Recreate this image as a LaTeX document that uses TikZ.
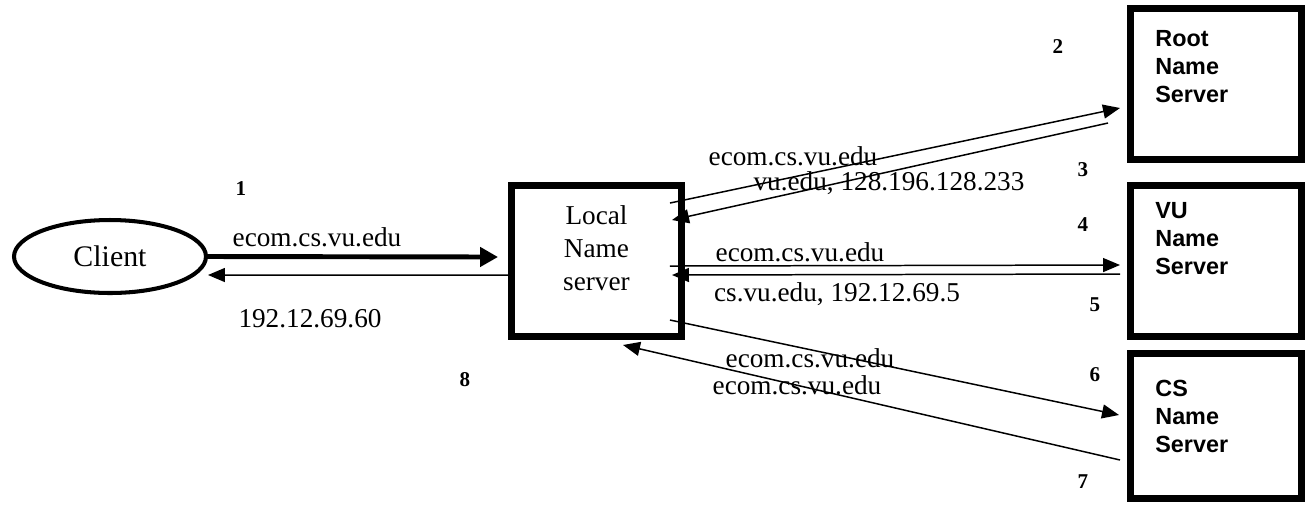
\documentclass[tikz,border=0pt]{standalone}
\usepackage{fontspec}
\setmainfont{Liberation Serif}
\newfontfamily\arialfont{Liberation Sans}
\usetikzlibrary{shapes.geometric,arrows.meta,calc}
\tikzset{
	srvbox/.style={draw, line width=4.3pt, minimum width=3.42cm, minimum height=3.02cm, inner sep=0pt, outer sep=0pt},
	srvtext/.style={anchor=north west, inner sep=0pt, align=left, font=\arialfont\bfseries\fontsize{13.3}{15.9}\selectfont},
	clientnode/.style={draw, ellipse, line width=2.3pt, minimum width=3.84cm, minimum height=1.46cm, inner sep=0pt, outer sep=0pt, font=\fontsize{17}{20}\selectfont},
	lbl/.style={inner sep=0pt, font=\fontsize{15.5}{18.7}\selectfont},
	num/.style={inner sep=0pt, font=\fontsize{12}{14}\selectfont\bfseries},
	msg/.style={->, line width=0.85pt},
	bigmsg/.style={-{Triangle[length=0.36cm,width=0.38cm]}, line width=2.8pt}
}
\begin{document}
\begin{tikzpicture}[x=0.02cm, y=-0.02cm, line join=miter, >={Triangle[length=0.34cm,width=0.28cm]}]
	\useasboundingbox (0,0) rectangle (1305,505);
	% client and servers
	\node[clientnode] (client) at (110,256.5) {Client};
	\node[srvbox, minimum width=3.4cm] (local) at (596.5,261) {};
	\node[lbl, align=center] (localtxt) at ($(local.center)+(0,-13)$) {Local\\Name\\server};
	\node[srvbox] (root) at (1216,84) {};
	\node[srvbox] (vu) at (1216,261) {};
	\node[srvbox, minimum height=2.9cm] (cs) at (1216,426) {};
	\node[srvtext] (roottxt) at ($(root.north west)+(24.5,21.5)$) {Root\\Name\\Server};
	\node[srvtext] (vutxt) at ($(vu.north west)+(24.5,16.5)$) {VU\\Name\\Server};
	\node[srvtext] (cstxt) at ($(cs.north west)+(24.5,26.5)$) {CS\\Name\\Server};
	% arrow ends
	\coordinate (lg) at ($(local.west)+(-13.5,-4)$);
	\coordinate (lh) at ($(local.west)+(-3.5,14)$);
	\coordinate (cb) at ($(client.east)+(2,18.5)$);
	\coordinate (la) at ($(local.north east)+(-11.5,17.5)$);
	\coordinate (lb) at ($(local.north east)+(-9.5,34.5)$);
	\coordinate (lc) at ($(local.north east)+(-11.5,80.5)$);
	\coordinate (ld) at ($(local.north east)+(-9.5,89.5)$);
	\coordinate (le) at ($(local.north east)+(-11.5,134.5)$);
	\coordinate (lf) at ($(local.south)+(26.5,8.5)$);
	\coordinate (ra) at ($(root.west)+(-10.5,24)$);
	\coordinate (rb) at ($(root.west)+(-22.5,39)$);
	\coordinate (va) at ($(vu.west)+(-10.5,4)$);
	\coordinate (vb) at ($(vu.west)+(-10.5,13)$);
	\coordinate (sa) at ($(cs.west)+(-11.5,-11)$);
	\coordinate (sb) at ($(cs.west)+(-10.5,34)$);
	% messages
	\draw[bigmsg] (client.east) -- (lg);
	\draw[msg] (lh) -- (cb);
	\draw[msg] (la) -- (ra);
	\draw[msg] (rb) -- (lb);
	\draw[msg] (lc) -- (va);
	\draw[msg] (vb) -- (ld);
	\draw[msg] (le) -- (sa);
	\draw[msg] (sb) -- (lf);
	% labels
	\node[lbl] (q1) at (317,237.5) {ecom.cs.vu.edu};
	\node[lbl] (a1) at (310,319) {192.12.69.60};
	\node[lbl] (q2) at (793,156.5) {ecom.cs.vu.edu};
	\node[lbl] (a2) at (889,183) {vu.edu, 128.196.128.233};
	\node[lbl] (q3) at (800,252) {ecom.cs.vu.edu};
	\node[lbl] (a3) at (837,294) {cs.vu.edu, 192.12.69.5};
	\node[lbl] (q4) at (810,358) {ecom.cs.vu.edu};
	\node[lbl] (a4) at (797,385) {ecom.cs.vu.edu};
	\node[num] (n1) at (241,189) {1};
	\node[num] (n2) at (1058,47) {2};
	\node[num] (n3) at (1083,170) {3};
	\node[num] (n4) at (1083,225) {4};
	\node[num] (n5) at (1095,305) {5};
	\node[num] (n6) at (1095,375) {6};
	\node[num] (n7) at (1083,482) {7};
	\node[num] (n8) at (465,380) {8};
\end{tikzpicture}
\end{document}
